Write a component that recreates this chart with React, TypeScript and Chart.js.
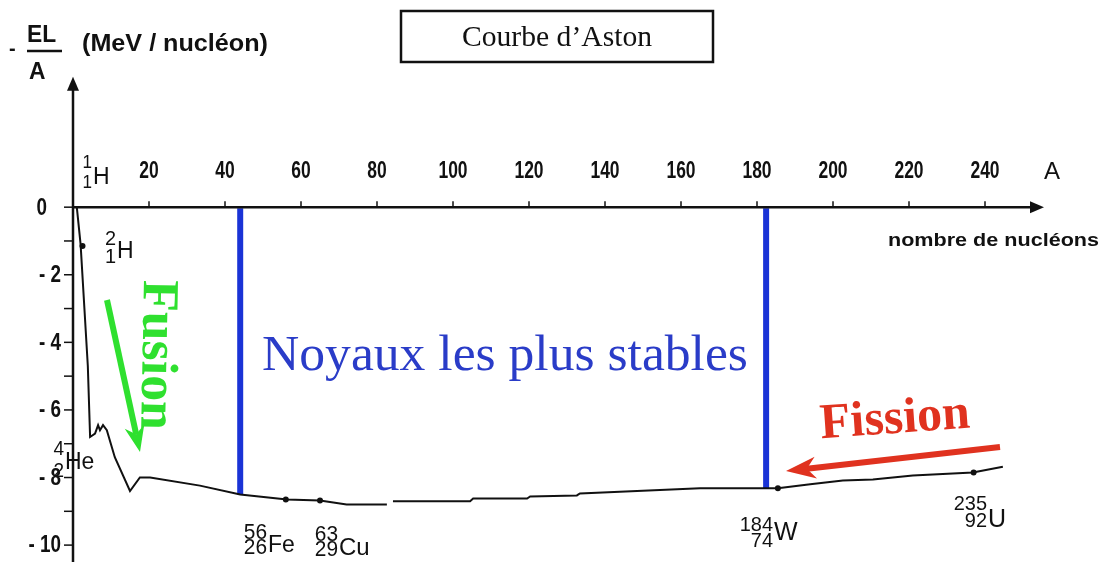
import { useEffect, useRef } from "react";
import { Chart, registerables } from "chart.js";

Chart.register(...registerables);

// Nombre de nucléons A (curve samples)
const massNumbers = [1, 2, 3.9, 4.5, 5.8, 6.6, 7.1, 7.9, 8.9, 11, 15, 17.6, 20.3, 33.4, 44, 56.3, 65, 72, 82.6, 83.4, 84.2, 104.5, 105.3, 119.5, 120.3, 132.6, 133.4, 165, 180, 185.5, 194, 202.6, 210.5, 221, 236.8, 244.7];
// -E_L/A (MeV / nucléon); null = gap in the drawn curve
const bindingPerNucleon: (number | null)[] = [0, -1.1, -4.7, -6.8, -6.7, -6.45, -6.6, -6.45, -6.6, -7.4, -8.4, -8.0, -8.0, -8.24, -8.5, -8.65, -8.68, -8.8, -8.8, null, -8.7, -8.7, -8.62, -8.62, -8.56, -8.53, -8.47, -8.32, -8.32, -8.32, -8.2, -8.09, -8.06, -7.94, -7.85, -7.68];

// Marked nuclides (dots on the curve)
const dotMass = [2.5, 56, 65, 185.5, 237];
const dotEnergy = [-1.15, -8.65, -8.68, -8.32, -7.85];

// Axis ticks
const xTicks = [20, 40, 60, 80, 100, 120, 140, 160, 180, 200, 220, 240];
const yTickLabels = [0, -2, -4, -6, -8, -10];
const yMinorTicks = [0, -1, -2, -3, -4, -5, -6, -7, -8, -9, -10];

// Zone "noyaux les plus stables"
const stableBounds = [44, 182.4];
const stableBottoms = [-8.5, -8.32];

const SANS = '"Liberation Sans", Arial, sans-serif';
const SERIF = '"Liberation Serif", "Times New Roman", serif';

function fitFont(ctx: CanvasRenderingContext2D, text: string, weight: string, family: string, targetW: number) {
  ctx.font = `${weight} 100px ${family}`;
  const w = ctx.measureText(text).width;
  return `${weight} ${(100 * targetW) / w}px ${family}`;
}

// draw text horizontally condensed by factor sx (anchor per ctx.textAlign)
function condensed(ctx: CanvasRenderingContext2D, text: string, x: number, y: number, sx: number) {
  ctx.save();
  ctx.translate(x, y);
  ctx.scale(sx, 1);
  ctx.fillText(text, 0, 0);
  ctx.restore();
}

function condensedFit(ctx: CanvasRenderingContext2D, text: string, x: number, y: number, font: string, targetW: number) {
  ctx.font = font;
  const w = ctx.measureText(text).width;
  condensed(ctx, text, x, y, targetW / w);
}

function arrow(ctx: CanvasRenderingContext2D, x1: number, y1: number, x2: number, y2: number, color: string, width: number, headLen: number, headW: number) {
  const ang = Math.atan2(y2 - y1, x2 - x1);
  const c = Math.cos(ang), s = Math.sin(ang);
  const bx = x2 - headLen * c, by = y2 - headLen * s;
  const ix = x2 - headLen * 0.7 * c, iy = y2 - headLen * 0.7 * s;
  ctx.save();
  ctx.strokeStyle = color;
  ctx.lineWidth = width;
  ctx.lineCap = "butt";
  ctx.beginPath();
  ctx.moveTo(x1, y1);
  ctx.lineTo(ix, iy);
  ctx.stroke();
  ctx.fillStyle = color;
  ctx.beginPath();
  ctx.moveTo(x2, y2);
  ctx.lineTo(bx + (headW / 2) * s, by - (headW / 2) * c);
  ctx.lineTo(ix, iy);
  ctx.lineTo(bx - (headW / 2) * s, by + (headW / 2) * c);
  ctx.closePath();
  ctx.fill();
  ctx.restore();
}

function nuclide(ctx: CanvasRenderingContext2D, xr: number, ySym: number, yMass: number, yZ: number, mass: string, z: string, sym: string, numSize: number, symSize: number) {
  ctx.save();
  ctx.fillStyle = "#111";
  ctx.textBaseline = "middle";
  ctx.textAlign = "right";
  ctx.font = `${numSize}px ${SANS}`;
  condensed(ctx, mass, xr, yMass, 0.95);
  condensed(ctx, z, xr, yZ, 0.95);
  ctx.textAlign = "left";
  ctx.font = `${symSize}px ${SANS}`;
  ctx.fillText(sym, xr + 1, ySym);
  ctx.restore();
}

const astonPlugin = {
  id: "aston",
  beforeDraw(chart: any) {
    const ctx = chart.ctx as CanvasRenderingContext2D;
    ctx.save();
    ctx.fillStyle = "#fff";
    ctx.fillRect(0, 0, chart.width, chart.height);
    ctx.restore();
  },
  beforeDatasetsDraw(chart: any) {
    const ctx = chart.ctx as CanvasRenderingContext2D;
    const X = (v: number) => chart.scales.x.getPixelForValue(v);
    const Y = (v: number) => chart.scales.y.getPixelForValue(v);
    ctx.save();
    ctx.strokeStyle = "#1a33d6";
    ctx.lineWidth = 6;
    stableBounds.forEach((a, i) => {
      ctx.beginPath();
      ctx.moveTo(X(a), Y(0) + 1);
      ctx.lineTo(X(a), Y(stableBottoms[i]));
      ctx.stroke();
    });
    ctx.restore();
  },
  afterDatasetsDraw(chart: any) {
    const ctx = chart.ctx as CanvasRenderingContext2D;
    const X = (v: number) => chart.scales.x.getPixelForValue(v);
    const Y = (v: number) => chart.scales.y.getPixelForValue(v);
    const x0 = X(0), y0 = Y(0);
    ctx.save();
    ctx.strokeStyle = "#111";
    ctx.fillStyle = "#111";
    ctx.lineWidth = 2.5;
    // x axis
    const xEnd = X(255);
    ctx.beginPath();
    ctx.moveTo(x0, y0);
    ctx.lineTo(xEnd - 4, y0);
    ctx.stroke();
    ctx.beginPath();
    ctx.moveTo(xEnd + 2, y0);
    ctx.lineTo(xEnd - 12, y0 - 6);
    ctx.lineTo(xEnd - 12, y0 + 6);
    ctx.closePath();
    ctx.fill();
    // y axis
    const yTop = Y(3.8);
    ctx.beginPath();
    ctx.moveTo(x0, Y(-10.5));
    ctx.lineTo(x0, yTop + 4);
    ctx.stroke();
    ctx.beginPath();
    ctx.moveTo(x0, yTop - 2);
    ctx.lineTo(x0 - 6, yTop + 12);
    ctx.lineTo(x0 + 6, yTop + 12);
    ctx.closePath();
    ctx.fill();
    // ticks
    ctx.lineWidth = 1.5;
    xTicks.forEach((t) => {
      ctx.beginPath();
      ctx.moveTo(X(t), y0 - 6);
      ctx.lineTo(X(t), y0);
      ctx.stroke();
    });
    yMinorTicks.forEach((t) => {
      ctx.beginPath();
      ctx.moveTo(x0 - 9, Y(t));
      ctx.lineTo(x0, Y(t));
      ctx.stroke();
    });
    // tick labels
    ctx.font = `bold 23px ${SANS}`;
    ctx.textAlign = "center";
    ctx.textBaseline = "middle";
    xTicks.forEach((t) => condensed(ctx, String(t), X(t), y0 - 36, 0.76));
    ctx.textAlign = "right";
    yTickLabels.forEach((t) => {
      const lbl = t === 0 ? "0" : "- " + String(Math.abs(t));
      condensed(ctx, lbl, t === 0 ? x0 - 26 : x0 - 12, Y(t) + 1, 0.82);
    });
    // axis names
    ctx.textAlign = "center";
    ctx.font = `24px ${SANS}`;
    ctx.fillText("A", 1052, 172);
    ctx.textAlign = "left";
    condensedFit(ctx, "nombre de nucléons", 888, 241, `bold 19px ${SANS}`, 211);
    // y axis title: - E_L / A (MeV / nucléon)
    ctx.font = `bold 20px ${SANS}`;
    ctx.fillText("-", 9, 49);
    ctx.font = `bold 24px ${SANS}`;
    condensed(ctx, "EL", 27, 35, 0.95);
    condensed(ctx, "A", 29, 72, 0.95);
    ctx.lineWidth = 2.5;
    ctx.beginPath();
    ctx.moveTo(27, 51);
    ctx.lineTo(62, 51);
    ctx.stroke();
    condensedFit(ctx, "(MeV / nucléon)", 82, 45, `bold 23px ${SANS}`, 186);
    // title box
    ctx.lineWidth = 2.5;
    ctx.strokeRect(401, 11, 312, 51);
    ctx.textAlign = "center";
    ctx.font = fitFont(ctx, "Courbe d’Aston", "", SERIF, 190);
    ctx.fillText("Courbe d’Aston", 557, 38);
    // nuclide labels
    nuclide(ctx, 92, 178, 163, 183, "1", "1", "H", 18, 23);
    nuclide(ctx, 116, 252, 239, 257, "2", "1", "H", 21, 23);
    nuclide(ctx, 64, 463, 449, 471, "4", "2", "He", 20, 23);
    nuclide(ctx, 267, 546, 533, 548, "56", "26", "Fe", 22, 23);
    nuclide(ctx, 338, 548, 535, 550, "63", "29", "Cu", 22, 24);
    nuclide(ctx, 773, 533, 525, 541, "184", "74", "W", 21, 25);
    nuclide(ctx, 987, 520, 504, 521, "235", "92", "U", 21, 25);
    // Noyaux les plus stables
    ctx.fillStyle = "#2a3cc8";
    ctx.textAlign = "left";
    ctx.font = fitFont(ctx, "Noyaux les plus stables", "", SERIF, 486);
    ctx.fillText("Noyaux les plus stables", 262, 356);
    // Fusion
    ctx.save();
    ctx.translate(156, 355);
    ctx.rotate(Math.PI / 2 + 0.02);
    ctx.fillStyle = "#2fe02f";
    ctx.textAlign = "center";
    ctx.font = fitFont(ctx, "Fusion", "bold", SERIF, 150);
    ctx.fillText("Fusion", 0, 0);
    ctx.restore();
    arrow(ctx, 107, 300, 140, 452, "#2fe02f", 6, 26, 20);
    // Fission
    ctx.save();
    ctx.translate(895, 420);
    ctx.rotate(-0.07);
    ctx.fillStyle = "#e0321f";
    ctx.textAlign = "center";
    ctx.font = fitFont(ctx, "Fission", "bold", SERIF, 150);
    ctx.fillText("Fission", 0, 0);
    ctx.restore();
    arrow(ctx, 1000, 447, 786, 471, "#e0321f", 6, 30, 22);
    ctx.restore();
  },
};

export default function App() {
  const ref = useRef<HTMLCanvasElement | null>(null);
  useEffect(() => {
    document.body.style.margin = "0";
    const canvas = ref.current;
    if (!canvas) return;
    const curve = massNumbers.map((a, i) => ({ x: a, y: bindingPerNucleon[i] }));
    const dots = dotMass.map((a, i) => ({ x: a, y: dotEnergy[i] }));
    const chart = new Chart(canvas, {
      type: "line",
      data: {
        datasets: [
          {
            data: curve as any,
            borderColor: "#111",
            borderWidth: 2,
            pointRadius: 0,
            tension: 0,
            spanGaps: false,
            fill: false,
          },
          {
            type: "scatter",
            data: dots as any,
            pointRadius: 3,
            backgroundColor: "#111",
            borderWidth: 0,
            showLine: false,
          } as any,
        ],
      },
      options: {
        animation: false,
        responsive: false,
        maintainAspectRatio: false,
        events: [],
        layout: { padding: { left: 73, right: 48, top: 72, bottom: 1 } },
        scales: {
          x: { type: "linear", min: 0, max: 260, display: false },
          y: { type: "linear", min: -10.5, max: 4, display: false },
        },
        plugins: { legend: { display: false }, tooltip: { enabled: false } },
      },
      plugins: [astonPlugin],
    });
    return () => chart.destroy();
  }, []);
  return <canvas ref={ref} width={1109} height={566} style={{ display: "block" }} />;
}
